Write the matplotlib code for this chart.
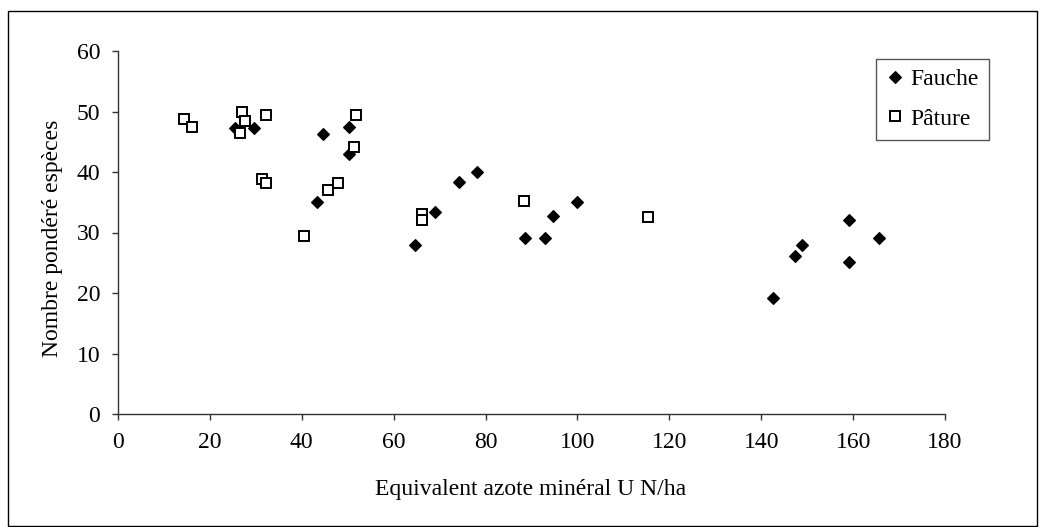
import matplotlib
matplotlib.use("Agg")
import matplotlib.pyplot as plt
from matplotlib.patches import Rectangle

plt.rcParams['font.family'] = ['Liberation Serif', 'DejaVu Serif']

fauche_x = [25.4, 29.7, 44.6, 50.3, 50.3, 43.3, 64.6, 68.9, 74.2, 78.1, 88.6, 92.9, 94.7, 99.9,
            142.6, 147.3, 148.8, 159.2, 159.2, 165.7]
fauche_y = [47.3, 47.3, 46.2, 47.4, 43.0, 35.0, 28.0, 33.4, 38.4, 40.0, 29.1, 29.1, 32.7, 35.0,
            19.1, 26.1, 28.0, 32.1, 25.1, 29.1]

pature_x = [14.4, 16.0, 26.9, 27.7, 26.5, 32.2, 31.3, 32.2, 40.4, 45.7, 47.8, 51.7, 51.3,
            66.2, 66.2, 88.4, 115.3]
pature_y = [48.8, 47.4, 49.9, 48.5, 46.4, 49.4, 38.8, 38.2, 29.5, 37.1, 38.1, 49.4, 44.2,
            33.0, 32.1, 35.2, 32.6]

x_ticks = [0, 20, 40, 60, 80, 100, 120, 140, 160, 180]
y_ticks = [0, 10, 20, 30, 40, 50, 60]

FS = 17
W, H = 1045, 527
L, R, T, B = 118, 945, 51, 414
fig = plt.figure(figsize=(W / 100, H / 100), dpi=100)
ax = fig.add_axes([L / W, 1 - B / H, (R - L) / W, (B - T) / H])

ax.plot(fauche_x, fauche_y, linestyle='none', marker='D', markersize=6.6,
        markerfacecolor='black', markeredgecolor='black', markeredgewidth=0.8, label='Fauche')
ax.plot(pature_x, pature_y, linestyle='none', marker='s', markersize=6.8,
        markerfacecolor='white', markeredgecolor='black', markeredgewidth=1.4, label='Pâture')

ax.set_xlim(0, 180)
ax.set_ylim(0, 60)
ax.set_xticks(x_ticks)
ax.set_yticks(y_ticks)
ax.tick_params(axis='both', direction='out', length=4.3, width=1, colors='#333333',
               labelcolor='black', labelsize=FS)
ax.tick_params(axis='x', pad=9.0)
ax.tick_params(axis='y', pad=8.6)
for s in ['top', 'right']:
    ax.spines[s].set_visible(False)
for s in ['left', 'bottom']:
    ax.spines[s].set_color('#333333')
    ax.spines[s].set_linewidth(1)

ax.set_xlabel('Equivalent azote minéral U N/ha', fontsize=FS)
ax.xaxis.label.set_va('center')
ax.xaxis.set_label_coords((531 - L) / (R - L), (B - 489.6) / (B - T))
ax.set_ylabel('Nombre pondéré espèces', fontsize=FS)
ax.yaxis.label.set_va('center')
ax.yaxis.set_label_coords((52.5 - L) / (R - L), (B - 238) / (B - T))

leg = ax.legend(loc='upper right', bbox_to_anchor=((988.7 - L) / (R - L), (B - 59) / (B - T)),
                fontsize=FS, frameon=True, fancybox=False, framealpha=1,
                edgecolor='#555555', handlelength=0.8, handletextpad=0.25,
                borderpad=0.42, labelspacing=0.75, borderaxespad=0)
leg.get_frame().set_linewidth(1)

fig.patches.append(Rectangle((8 / W, 1 - 526 / H), (1037 - 8) / W, (526 - 11) / H,
                             transform=fig.transFigure, fill=False,
                             edgecolor='black', linewidth=1))

fig.savefig('out.png', dpi=100)
